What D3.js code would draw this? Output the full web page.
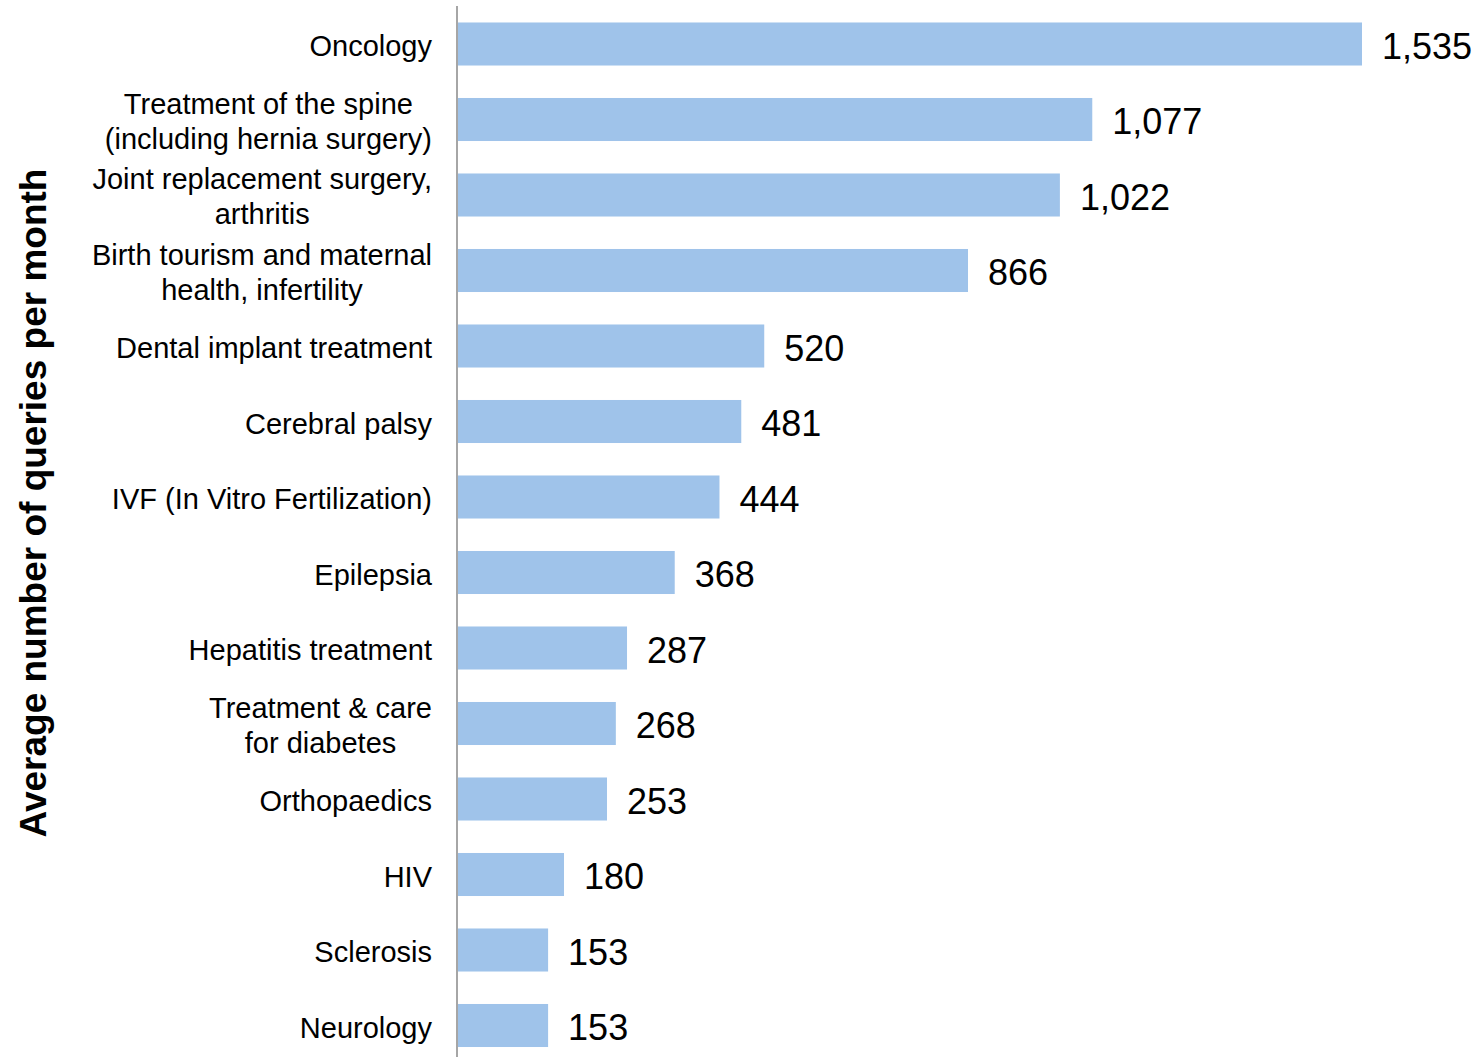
<!DOCTYPE html>
<html>
<head>
<meta charset="utf-8">
<script src="https://cdn.jsdelivr.net/npm/d3@7"></script>
<style>
  html, body { margin: 0; padding: 0; background: #fff; }
  svg { display: block; font-family: "Liberation Sans", Arial, sans-serif; }
</style>
</head>
<body>
<svg id="chart" width="1484" height="1057"></svg>
<script>
// Categories (each entry is the list of lines in the label)
const categories = [
  ["Oncology"],
  ["Treatment of the spine", "(including hernia surgery)"],
  ["Joint replacement surgery,", "arthritis"],
  ["Birth tourism and maternal", "health, infertility"],
  ["Dental implant treatment"],
  ["Cerebral palsy"],
  ["IVF (In Vitro Fertilization)"],
  ["Epilepsia"],
  ["Hepatitis treatment"],
  ["Treatment & care", "for diabetes"],
  ["Orthopaedics"],
  ["HIV"],
  ["Sclerosis"],
  ["Neurology"]
];
const values = [1535, 1077, 1022, 866, 520, 481, 444, 368, 287, 268, 253, 180, 153, 153];
const axisTitle = "Average number of queries per month";

const svg = d3.select("#chart");
const axisX = 458;

const x = d3.scaleLinear().domain([0, 1535]).range([axisX, 1362]);
const y = d3.scaleBand()
  .domain(d3.range(categories.length))
  .range([6.25, 6.25 + 75.5 * categories.length])
  .paddingInner(0.43)
  .paddingOuter(0.215);

// Bars
svg.append("g").selectAll("rect")
  .data(values)
  .join("rect")
  .attr("x", x(0))
  .attr("y", (d, i) => y(i))
  .attr("width", d => x(d) - x(0))
  .attr("height", y.bandwidth())
  .attr("fill", "#9fc3ea");

// Vertical category axis line
svg.append("line")
  .attr("x1", 457).attr("x2", 457)
  .attr("y1", 6).attr("y2", 1057)
  .attr("stroke", "#a6a6a6")
  .attr("stroke-width", 2);

// Value labels
svg.append("g").selectAll("text")
  .data(values)
  .join("text")
  .attr("x", d => x(d) + 20)
  .attr("y", (d, i) => y(i) + y.bandwidth() / 2 + 2)
  .attr("dy", "0.36em")
  .attr("font-size", 36)
  .attr("fill", "#000")
  .text(d => d3.format(",")(d));

// Category labels: blocks right-aligned at the axis, lines centered within a block
const labelRight = 432;
const lineH = 35;
const lg = svg.append("g");
categories.forEach((lines, i) => {
  const cy = y(i) + y.bandwidth() / 2 + (lines.length > 1 ? 1.5 : 2);
  const t = lg.append("text")
    .attr("font-size", 29)
    .attr("fill", "#000")
    .attr("text-anchor", "middle");
  const spans = lines.map((s, k) => t.append("tspan")
    .attr("y", cy + (k - (lines.length - 1) / 2) * lineH)
    .attr("dy", "0.35em")
    .text(s));
  const maxW = d3.max(spans, sp => sp.node().getComputedTextLength());
  spans.forEach(sp => sp.attr("x", labelRight - maxW / 2));
});

// Axis title
svg.append("text")
  .attr("transform", "translate(33,503) rotate(-90)")
  .attr("text-anchor", "middle")
  .attr("dy", "0.35em")
  .attr("font-size", 37)
  .attr("font-weight", "bold")
  .attr("fill", "#000")
  .text(axisTitle);
</script>
</body>
</html>
